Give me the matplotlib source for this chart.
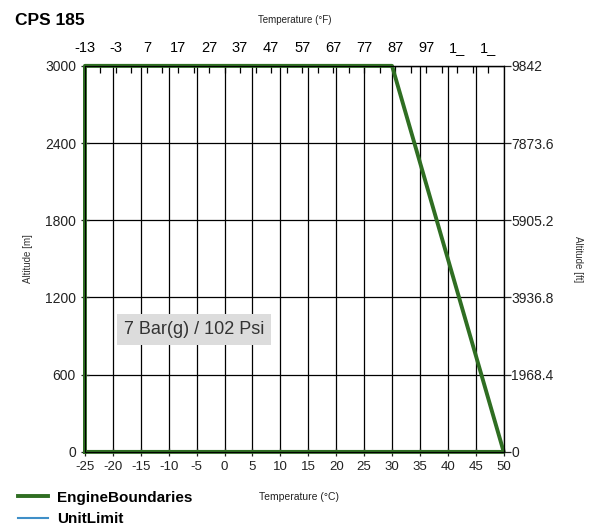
import matplotlib
matplotlib.use("Agg")
import matplotlib.pyplot as plt
from matplotlib.ticker import FixedLocator

plt.rcParams['font.family'] = ['Liberation Sans', 'DejaVu Sans']

# ----------- Data -----------
engine_temp_c = [-25, -25, 30, 50, -25]
engine_alt_m = [0, 3000, 3000, 0, 0]
unit_temp_c = []
unit_alt_m = []

x_ticks_c = list(range(-25, 51, 5))
y_ticks_m = [0, 600, 1200, 1800, 2400, 3000]
y_ticks_ft = ["0", "1968.4", "3936.8", "5905.2", "7873.6", "9842"]
top_ticks_f = [-13, -3, 7, 17, 27, 37, 47, 57, 67, 77, 87, 97, 107, 117]
top_labels_f = ["-13", "-3", "7", "17", "27", "37", "47", "57", "67", "77", "87", "97", "1_", "1_"]
label_text = "7 Bar(g) / 102 Psi"

green = "#2f6e22"
blue = "#3f8fc8"

# ----------- Plot -----------
fig = plt.figure(figsize=(5.94, 5.31), dpi=100)
ax = fig.add_axes([0.143, 0.149, 0.705, 0.727])

ax.set_xlim(-25, 50)
ax.set_ylim(0, 3000)
ax.set_xticks(x_ticks_c)
ax.set_yticks(y_ticks_m)
ax.grid(True, color="black", linewidth=0.9)
ax.set_axisbelow(True)

ax.plot(engine_temp_c, engine_alt_m, color=green, linewidth=2.8,
        label="EngineBoundaries", zorder=3, clip_on=False)
ax.plot(unit_temp_c, unit_alt_m, color=blue, linewidth=1.5, label="UnitLimit")

for s in ax.spines.values():
    s.set_linewidth(0.9)

ax.tick_params(axis="both", direction="inout", length=6, width=0.9,
               labelsize=10, colors="#222222")
ax.set_xticklabels([str(t) for t in x_ticks_c], fontsize=9.5)

ax.set_ylabel("Altitude [m]", fontsize=7, color="#333333")
ax.yaxis.set_label_coords(-0.125, 0.5)
ax.set_xlabel("Temperature (°C)", fontsize=7.5, color="#222222")
ax.xaxis.set_label_coords(0.51, -0.105)

# top axis in Fahrenheit
top = ax.secondary_xaxis("top", functions=(lambda c: c * 9 / 5 + 32,
                                           lambda f: (f - 32) * 5 / 9))
top.set_xticks(top_ticks_f)
top.set_xticklabels(top_labels_f, fontsize=10.5)
top.xaxis.set_minor_locator(FixedLocator([f + 5 for f in top_ticks_f[:-1]]))
top.tick_params(axis="x", which="both", direction="in", length=5, width=0.9, pad=8)
top.set_xlabel("Temperature (°F)", fontsize=7, color="#222222", labelpad=13)

# right axis in feet
right = ax.twinx()
right.set_ylim(0, 3000)
right.set_yticks(y_ticks_m)
right.set_yticklabels(y_ticks_ft, fontsize=10)
right.tick_params(axis="y", direction="out", length=5, width=0.9, pad=0.5, colors="#222222")
right.set_ylabel("Altitude [ft]", fontsize=7, color="#333333", rotation=270)
right.yaxis.set_label_coords(1.19, 0.5)

ax.text(-18.0, 950, label_text, fontsize=13, va="center", ha="left",
        color="#333333",
        bbox=dict(facecolor="#dcdcdc", edgecolor="none", pad=5), zorder=4)

fig.text(0.025, 0.952, "CPS 185", fontsize=12.5, fontweight="bold")

ax.legend(loc="upper left", bbox_to_anchor=(-0.175, -0.085), frameon=False,
          handlelength=2.0, labelspacing=0.5, borderaxespad=0, handletextpad=0.6,
          prop={"weight": "bold", "size": 11})

fig.savefig("out.png", dpi=100)
